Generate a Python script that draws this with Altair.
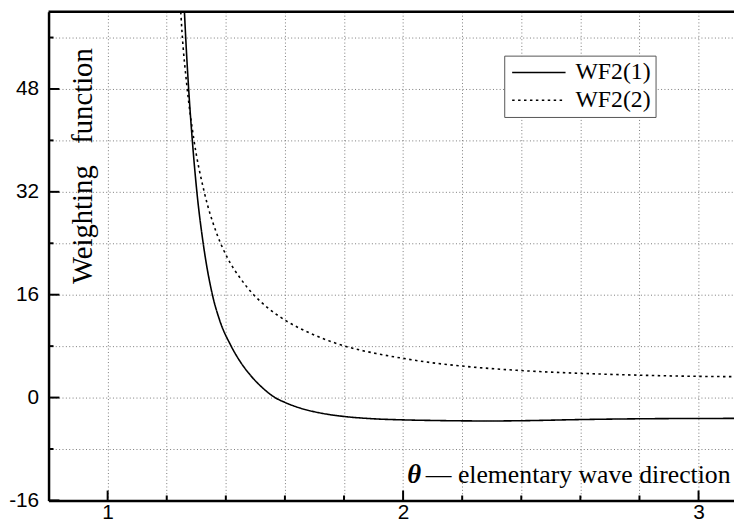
import altair as alt
import pandas as pd

# ---- data ----
series_names = ["WF2(1)", "WF2(2)"]

wf1_theta = [1.2599, 1.2642, 1.2742, 1.2866, 1.3020, 1.3234, 1.3545, 1.3793, 1.4181,
             1.45, 1.48, 1.52, 1.5666, 1.60, 1.65, 1.70, 1.75, 1.80, 1.90, 2.0, 2.1,
             2.2, 2.3, 2.4, 2.6, 2.8, 3.0, 3.12]
wf1_value = [60, 56, 48, 40, 32, 24, 16, 12, 8,
             5.5, 3.65, 1.7, 0, -0.75, -1.61, -2.21, -2.64, -2.94, -3.30, -3.47, -3.56,
             -3.62, -3.64, -3.60, -3.42, -3.30, -3.25, -3.24]

wf2_theta = [1.2475, 1.2515, 1.2682, 1.2916, 1.3268, 1.371, 1.407, 1.4515, 1.494,
             1.541, 1.602, 1.686, 1.80, 1.909, 2.0, 2.076, 2.2, 2.4, 2.6, 2.8, 3.0, 3.12]
wf2_value = [60, 57, 48.5, 40.2, 32, 25.3, 21.6, 18.4, 16,
             14.0, 12.0, 10.0, 8.05, 6.85, 6.1, 5.55, 4.9, 4.2, 3.77, 3.48, 3.3, 3.25]

x_grid = [1.0, 1.2, 1.4, 1.6, 1.8, 2.0, 2.2, 2.4, 2.6, 2.8, 3.0]
x_major = [1, 2, 3]
x_minor = [1.2, 1.4, 1.6, 1.8, 2.2, 2.4, 2.6, 2.8]
y_grid = [-16, -8, 0, 8, 16, 24, 32, 40, 48, 56]
y_major = [-16, 0, 16, 32, 48]
y_minor = [-8, 8, 24, 40, 56]
x_domain = [0.8, 3.12]
y_domain = [-16, 60]
theta_label = ["θ"]
x_title = "—\u00a0elementary wave direction"
y_title = "Weighting\u00a0\u00a0\u00a0function"

W, H = 693, 494
TICK = "black"

lines_df = pd.DataFrame({
    "theta": wf1_theta + wf2_theta,
    "value": wf1_value + wf2_value,
    "series": [series_names[0]] * len(wf1_theta) + [series_names[1]] * len(wf2_theta),
})

xscale = alt.Scale(domain=x_domain, nice=False, zero=False)
yscale = alt.Scale(domain=y_domain, nice=False, zero=False)

grid_style = dict(grid=True, gridColor="#7a7a7a", gridDash=[1, 2.4], gridWidth=1,
                  ticks=False, domain=True, domainColor="black", domainWidth=2.5,
                  labelFont="Liberation Sans", labelFontSize=21, labelColor="black",
                  labelOverlap=False, labelFlush=False,
                  titleFontWeight="normal", titleColor="black")

xaxis = alt.Axis(values=x_grid,
                 labelExpr="abs(datum.value - round(datum.value)) < 0.001 ? '' + round(datum.value) : ''",
                 labelPadding=1,
                 title=x_title, titleFont="Liberation Serif", titleFontSize=26,
                 titleX=689, titleY=-18, titleAlign="right", titleBaseline="alphabetic",
                 titleAngle=0, **grid_style)

yaxis = alt.Axis(values=y_grid,
                 labelExpr="datum.value % 16 == 0 ? '' + datum.value : ''",
                 labelPadding=10,
                 title=y_title, titleFont="Liberation Serif", titleFontSize=29,
                 titleAngle=270, titleX=43, titleY=155.5, titleAlign="center",
                 titleBaseline="alphabetic", **grid_style)

legend = alt.Legend(title=None, orient="none", legendX=460.7, legendY=44.3,
                    fillColor="white", strokeColor="#555", padding=5, rowPadding=4,
                    labelFont="Liberation Serif", labelFontSize=24, labelColor="black",
                    labelOffset=25, symbolOffset=18, symbolType="M-3,0H3", symbolSize=324,
                    symbolStrokeWidth=1.5, symbolStrokeColor="black", symbolFillColor="transparent",
                    labelExpr="datum.label + '\u00a0'")

lines = alt.Chart(lines_df).mark_line(color="black", strokeWidth=1.6, clip=True,
                                      interpolate="monotone").encode(
    x=alt.X("theta:Q", scale=xscale, axis=xaxis),
    y=alt.Y("value:Q", scale=yscale, axis=yaxis),
    strokeDash=alt.StrokeDash("series:N",
                              scale=alt.Scale(domain=series_names, range=[[1, 0], [2.5, 3.5]]),
                              legend=legend),
    detail="series:N",
)

xmaj = alt.Chart(pd.DataFrame({"x": x_major})).mark_rule(color=TICK, strokeWidth=2).encode(
    x=alt.X("x:Q", scale=xscale, axis=xaxis), y=alt.value(H), y2=alt.value(H - 10))
xmin = alt.Chart(pd.DataFrame({"x": x_minor})).mark_rule(color=TICK, strokeWidth=2).encode(
    x=alt.X("x:Q", scale=xscale, axis=xaxis), y=alt.value(H), y2=alt.value(H - 5))
ymaj = alt.Chart(pd.DataFrame({"y": y_major})).mark_rule(color=TICK, strokeWidth=2).encode(
    y=alt.Y("y:Q", scale=yscale, axis=yaxis), x=alt.value(0), x2=alt.value(11))
ymin = alt.Chart(pd.DataFrame({"y": y_minor})).mark_rule(color=TICK, strokeWidth=2).encode(
    y=alt.Y("y:Q", scale=yscale, axis=yaxis), x=alt.value(0), x2=alt.value(5))
top = alt.Chart(pd.DataFrame({"y": [y_domain[1]]})).mark_rule(color="black", strokeWidth=2.5).encode(
    y=alt.Y("y:Q", scale=yscale, axis=yaxis), x=alt.value(0), x2=alt.value(W))
theta = alt.Chart(pd.DataFrame({"t": theta_label})).mark_text(
    font="Liberation Serif", fontSize=27, fontStyle="italic", fontWeight="bold",
    align="left", baseline="alphabetic", color="black").encode(
    text="t:N", x=alt.value(362.7), y=alt.value(476))

chart = alt.layer(lines, xmaj, xmin, ymaj, ymin, top, theta).properties(
    width=W, height=H,
    autosize=alt.AutoSizeParams(type="none"),
    padding={"left": 41, "top": 1, "right": 0, "bottom": 25},
).configure_view(stroke=None)

chart.save("out.html", embed_options={"renderer": "svg", "actions": False})
